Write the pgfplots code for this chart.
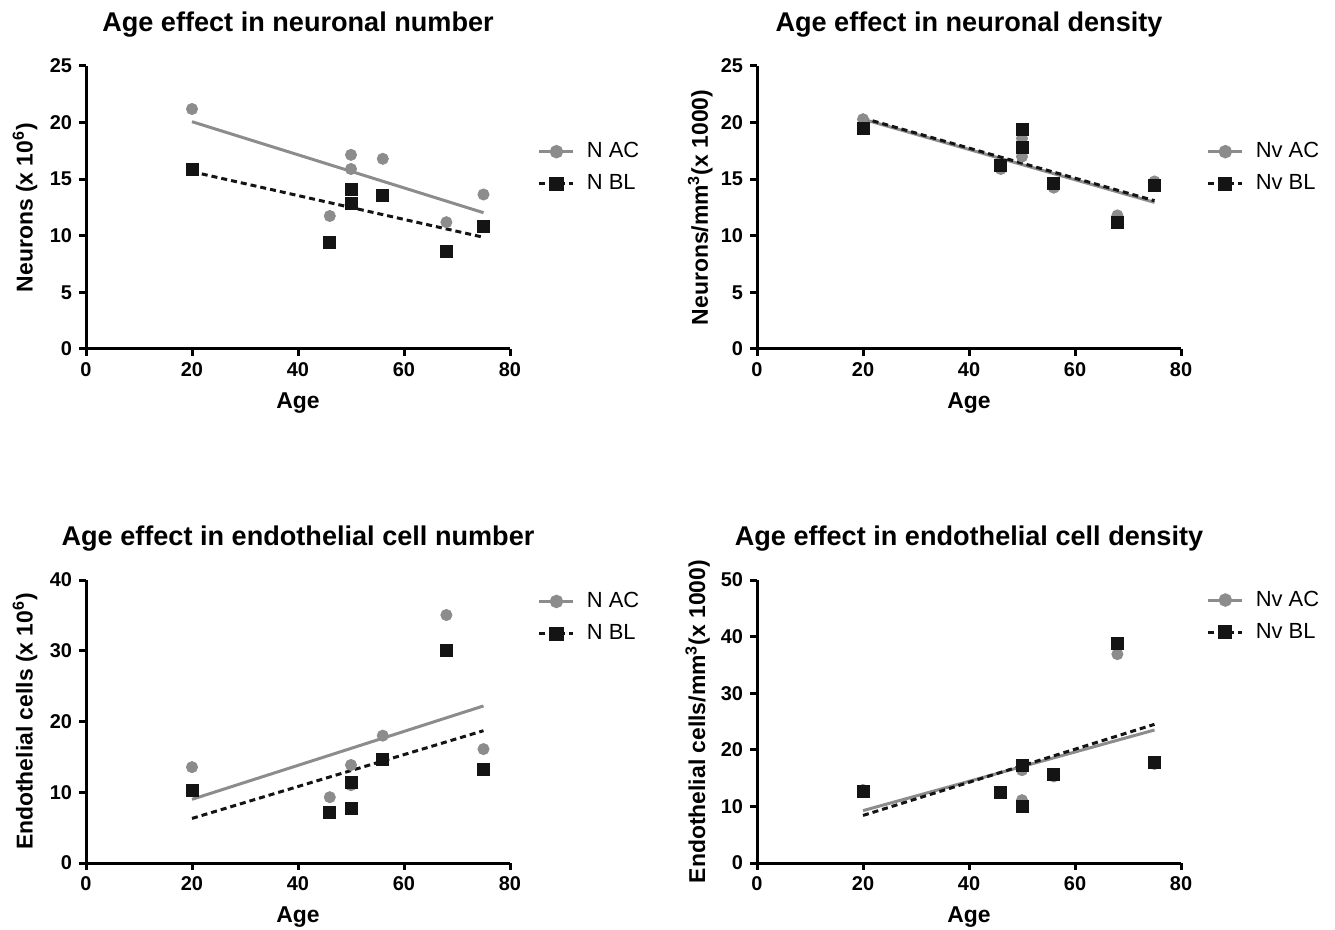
\documentclass[border=0pt]{standalone}
\usepackage{fontspec}
\setmainfont{Liberation Sans}
\usepackage{pgfplots}
\pgfplotsset{compat=1.18}
\definecolor{acgray}{RGB}{140,140,140}
\definecolor{blblack}{RGB}{20,20,20}

\pgfplotsset{
  panel/.style={
    scale only axis, width=212bp, height=141.5bp,
    axis lines=left, axis line style={-, line width=1.5bp},
    xmin=0, xmax=80, xtick={0,20,...,80}, ymin=0,
    tick align=outside, major tick length=3.5bp,
    tick style={line width=1.5bp, black},
    ticklabel style={font=\fontsize{10}{12}\selectfont\bfseries},
    /pgf/number format/assume math mode=true,
    label style={font=\fontsize{11.5}{13}\selectfont\bfseries},
    title style={font=\fontsize{13.6}{16}\selectfont\bfseries,
      at={(axis description cs:0.5,1.105)}, anchor=center},
    xlabel style={at={(axis description cs:0.5,-0.19)}, anchor=center},
    ylabel style={at={(axis description cs:-0.144,0.5)}, anchor=center},
    legend style={draw=none, fill=none, anchor=north west,
      font=\fontsize{11}{13}\selectfont, inner sep=0pt, row sep=3bp,
      /tikz/every odd column/.append style={column sep=4bp}},
    legend cell align=left,
    clip=false,
  },
  ac/.style={acgray, line width=1.5bp},
  bl/.style={blblack, line width=1.5bp, dash pattern=on 3bp off 2bp},
  acm/.style={only marks, mark=*, mark size=2.8bp, acgray},
  blm/.style={only marks, mark=square*, mark size=3bp, blblack},
}

\begin{document}
\begin{tikzpicture}
\path[use as bounding box] (-43bp,-33.5bp) rectangle (624.5bp,431.5bp);

% top left
\begin{axis}[panel, at={(0bp,257bp)}, anchor=south west,
  ymax=25, ytick={0,5,...,25},
  title={Age effect in neuronal number},
  xlabel={Age}, ylabel={Neurons (x 10\textsuperscript{6})},
  legend style={at={(axis description cs:1.065,0.745)}}]
\addlegendimage{ac, mark=*, mark size=2.6bp}
\addlegendentry{N AC}
\addlegendimage{bl, mark=square*, mark size=2.8bp, mark options={solid}}
\addlegendentry{N BL}
\addplot[ac, forget plot] coordinates {(20,20.08) (75,12.04)};
\addplot[bl, forget plot] coordinates {(20,15.66) (75,9.87)};
\addplot[acm, forget plot] coordinates {(20,21.2) (46,11.75) (50,17.15) (50,15.9) (56,16.8) (68,11.2) (75,13.65)};
\addplot[blm, forget plot] coordinates {(20,15.9) (46,9.45) (50,14.1) (50,12.85) (56,13.6) (68,8.65) (75,10.8)};
\end{axis}

% top right
\begin{axis}[panel, at={(335.5bp,257bp)}, anchor=south west,
  ymax=25, ytick={0,5,...,25},
  title={Age effect in neuronal density},
  xlabel={Age}, ylabel={Neurons/mm\textsuperscript{3}(x 1000)},
  ylabel style={at={(axis description cs:-0.134,0.5)}},
  legend style={at={(axis description cs:1.06,0.745)}}]
\addlegendimage{ac, mark=*, mark size=2.6bp}
\addlegendentry{Nv AC}
\addlegendimage{bl, mark=square*, mark size=2.8bp, mark options={solid}}
\addlegendentry{Nv BL}
\addplot[ac, forget plot] coordinates {(20,20.3) (75,12.95)};
\addplot[bl, forget plot] coordinates {(20,20.4) (75,13.1)};
\addplot[acm, forget plot] coordinates {(20,20.3) (46,15.9) (50,18.6) (50,17.0) (56,14.25) (68,11.8) (75,14.8)};
\addplot[blm, forget plot] coordinates {(20,19.45) (46,16.2) (50,19.4) (50,17.8) (56,14.65) (68,11.15) (75,14.45)};
\end{axis}

% bottom left
\begin{axis}[panel, at={(0bp,0bp)}, anchor=south west,
  ymax=40, ytick={0,10,...,40},
  title={Age effect in endothelial cell number},
  xlabel={Age}, ylabel={Endothelial cells (x 10\textsuperscript{6})},
  legend style={at={(axis description cs:1.065,0.972)}}]
\addlegendimage{ac, mark=*, mark size=2.6bp}
\addlegendentry{N AC}
\addlegendimage{bl, mark=square*, mark size=2.8bp, mark options={solid}}
\addlegendentry{N BL}
\addplot[ac, forget plot] coordinates {(20,9.0) (75,22.2)};
\addplot[bl, forget plot] coordinates {(20,6.3) (75,18.7)};
\addplot[acm, forget plot] coordinates {(20,13.55) (46,9.3) (50,13.85) (50,11.0) (56,18.0) (68,35.05) (75,16.1)};
\addplot[blm, forget plot] coordinates {(20,10.2) (46,7.2) (50,11.35) (50,7.75) (56,14.6) (68,30.0) (75,13.25)};
\end{axis}

% bottom right
\begin{axis}[panel, at={(335.5bp,0bp)}, anchor=south west,
  ymax=50, ytick={0,10,...,50},
  title={Age effect in endothelial cell density},
  xlabel={Age}, ylabel={Endothelial cells/mm\textsuperscript{3}(x 1000)},
  ylabel style={at={(axis description cs:-0.14,0.5)}},
  legend style={at={(axis description cs:1.06,0.977)}}]
\addlegendimage{ac, mark=*, mark size=2.6bp}
\addlegendentry{Nv AC}
\addlegendimage{bl, mark=square*, mark size=2.8bp, mark options={solid}}
\addlegendentry{Nv BL}
\addplot[ac, forget plot] coordinates {(20,9.25) (75,23.5)};
\addplot[bl, forget plot] coordinates {(20,8.4) (75,24.5)};
\addplot[acm, forget plot] coordinates {(20,12.9) (46,12.5) (50,16.4) (50,11.1) (56,15.3) (68,36.9) (75,17.5)};
\addplot[blm, forget plot] coordinates {(20,12.6) (46,12.5) (50,17.3) (50,9.95) (56,15.7) (68,38.8) (75,17.8)};
\end{axis}
\end{tikzpicture}
\end{document}
